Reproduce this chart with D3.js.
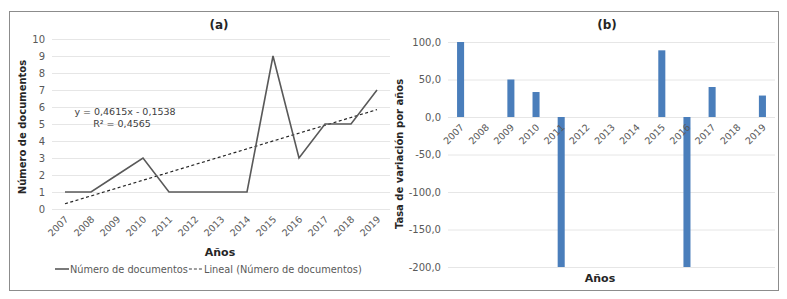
<!DOCTYPE html>
<html>
<head>
<meta charset="utf-8">
<script src="https://cdn.jsdelivr.net/npm/d3@7"></script>
<style>
  body { margin: 0; background: #fff; }
  svg { display: block; font-family: "DejaVu Sans", Verdana, sans-serif; }
</style>
</head>
<body>
<div id="chart"></div>
<script>
// data
const years = ["2007", "2008", "2009", "2010", "2011", "2012", "2013", "2014", "2015", "2016", "2017", "2018", "2019"];
const documentos = [1, 1, 2, 3, 1, 1, 1, 1, 9, 3, 5, 5, 7];
const tasaVariacion = [100, 0, 50, 33.3, -200, 0, 0, 0, 88.9, -200, 40, 0, 28.6];
const trendSlope = 0.4615, trendIntercept = -0.1538;
const leftTicks = [0, 1, 2, 3, 4, 5, 6, 7, 8, 9, 10];
const rightTicks = [-200, -150, -100, -50, 0, 50, 100];

const width = 787, height = 299;
const textColor = "#595959";
const gridColor = "#e6e6e6";

const svg = d3.select("#chart").append("svg")
    .attr("width", width)
    .attr("height", height);

// outer frame
svg.append("rect")
    .attr("x", 9.5).attr("y", 11.5)
    .attr("width", 769).attr("height", 279)
    .attr("fill", "none")
    .attr("stroke", "#8c8c8c")
    .attr("stroke-width", 1);

const locale = d3.formatLocale({decimal: ",", thousands: ".", grouping: [3], currency: ["", ""], minus: "-"});
const fmt1 = locale.format(".1f");

// ---------- (a) ----------
const xa = d3.scaleBand().domain(years).range([52, 390]);
const ya = d3.scaleLinear().domain([0, 10]).range([209, 39]);
const ga = svg.append("g");

ga.append("g")
    .selectAll("line")
    .data(leftTicks)
    .join("line")
    .attr("x1", 52).attr("x2", 390)
    .attr("y1", d => ya(d) + 0.5).attr("y2", d => ya(d) + 0.5)
    .attr("stroke", gridColor);

ga.append("g")
    .selectAll("text")
    .data(leftTicks)
    .join("text")
    .attr("x", 45)
    .attr("y", d => ya(d))
    .attr("dy", "0.35em")
    .attr("text-anchor", "end")
    .attr("font-size", 10)
    .attr("fill", textColor)
    .text(d => d);

ga.append("g")
    .selectAll("text")
    .data(years)
    .join("text")
    .attr("transform", d => `translate(${xa(d) + xa.bandwidth() / 2 + 4},${ya(0) + 11}) rotate(-45)`)
    .attr("text-anchor", "end")
    .attr("font-size", 9.5)
    .attr("fill", textColor)
    .text(d => d);

// trend line
const trend = years.map((y, i) => [y, trendSlope * (i + 1) + trendIntercept]);
ga.append("path")
    .datum([trend[0], trend[trend.length - 1]])
    .attr("fill", "none")
    .attr("stroke", "#262626")
    .attr("stroke-width", 1.2)
    .attr("stroke-dasharray", "3,2.5")
    .attr("d", d3.line().x(d => xa(d[0]) + xa.bandwidth() / 2).y(d => ya(d[1])));

ga.append("path")
    .datum(documentos)
    .attr("fill", "none")
    .attr("stroke", "#595959")
    .attr("stroke-width", 1.6)
    .attr("d", d3.line().x((d, i) => xa(years[i]) + xa.bandwidth() / 2).y(d => ya(d)));

ga.append("text")
    .attr("x", 125).attr("y", 115)
    .attr("text-anchor", "middle")
    .attr("font-size", 9.5)
    .attr("fill", "#404040")
    .text("y = 0,4615x - 0,1538");
ga.append("text")
    .attr("x", 122).attr("y", 127)
    .attr("text-anchor", "middle")
    .attr("font-size", 9.5)
    .attr("fill", "#404040")
    .text("R² = 0,4565");

ga.append("text")
    .attr("x", 219).attr("y", 29)
    .attr("text-anchor", "middle")
    .attr("font-size", 12)
    .attr("font-weight", "bold")
    .attr("fill", "#262626")
    .text("(a)");

ga.append("text")
    .attr("transform", "translate(26,127) rotate(-90)")
    .attr("text-anchor", "middle")
    .attr("font-size", 10)
    .attr("font-weight", "bold")
    .attr("fill", "#262626")
    .text("Número de documentos");

ga.append("text")
    .attr("x", 220).attr("y", 256)
    .attr("text-anchor", "middle")
    .attr("font-size", 11)
    .attr("font-weight", "bold")
    .attr("fill", "#262626")
    .text("Años");

// legend
const lg = ga.append("g").attr("transform", "translate(55,269)");
lg.append("line").attr("x1", 0).attr("x2", 14).attr("y1", 0).attr("y2", 0)
    .attr("stroke", "#595959").attr("stroke-width", 1.6);
const t1 = lg.append("text").attr("x", 15).attr("y", 4)
    .attr("font-size", 9.8).attr("fill", textColor)
    .text("Número de documentos");
const w1 = t1.node().getComputedTextLength();
lg.append("line").attr("x1", 15 + w1 + 1).attr("x2", 15 + w1 + 15).attr("y1", 0).attr("y2", 0)
    .attr("stroke", "#404040").attr("stroke-width", 1.2).attr("stroke-dasharray", "3,2");
lg.append("text").attr("x", 15 + w1 + 16).attr("y", 4)
    .attr("font-size", 9.8).attr("fill", textColor)
    .text("Lineal (Número de documentos)");

// ---------- (b) ----------
const xb = d3.scaleBand().domain(years).range([448, 775]).paddingInner(0.72).paddingOuter(0.36);
const yb = d3.scaleLinear().domain([-200, 100]).range([267, 42]);
const gb = svg.append("g");

gb.append("g")
    .selectAll("line")
    .data(rightTicks)
    .join("line")
    .attr("x1", 448).attr("x2", 775)
    .attr("y1", d => yb(d) + 0.5).attr("y2", d => yb(d) + 0.5)
    .attr("stroke", gridColor);

gb.append("g")
    .selectAll("text")
    .data(rightTicks)
    .join("text")
    .attr("x", 441)
    .attr("y", d => yb(d))
    .attr("dy", "0.35em")
    .attr("text-anchor", "end")
    .attr("font-size", 10)
    .attr("fill", textColor)
    .text(d => fmt1(d));

gb.append("g")
    .selectAll("rect")
    .data(tasaVariacion)
    .join("rect")
    .attr("x", (d, i) => xb(years[i]))
    .attr("width", xb.bandwidth())
    .attr("y", d => yb(Math.max(0, d)))
    .attr("height", d => Math.abs(yb(d) - yb(0)))
    .attr("fill", "#4a7ebb");

gb.append("g")
    .selectAll("text")
    .data(years)
    .join("text")
    .attr("transform", d => `translate(${xb(d) + xb.bandwidth() / 2 + 4},${yb(0) + 11}) rotate(-45)`)
    .attr("text-anchor", "end")
    .attr("font-size", 9.5)
    .attr("fill", textColor)
    .text(d => d);

gb.append("text")
    .attr("x", 607).attr("y", 29)
    .attr("text-anchor", "middle")
    .attr("font-size", 12)
    .attr("font-weight", "bold")
    .attr("fill", "#262626")
    .text("(b)");

gb.append("text")
    .attr("transform", "translate(403,154) rotate(-90)")
    .attr("text-anchor", "middle")
    .attr("font-size", 10)
    .attr("font-weight", "bold")
    .attr("fill", "#262626")
    .text("Tasa de variación por años");

gb.append("text")
    .attr("x", 600).attr("y", 282)
    .attr("text-anchor", "middle")
    .attr("font-size", 11)
    .attr("font-weight", "bold")
    .attr("fill", "#262626")
    .text("Años");
</script>
</body>
</html>
